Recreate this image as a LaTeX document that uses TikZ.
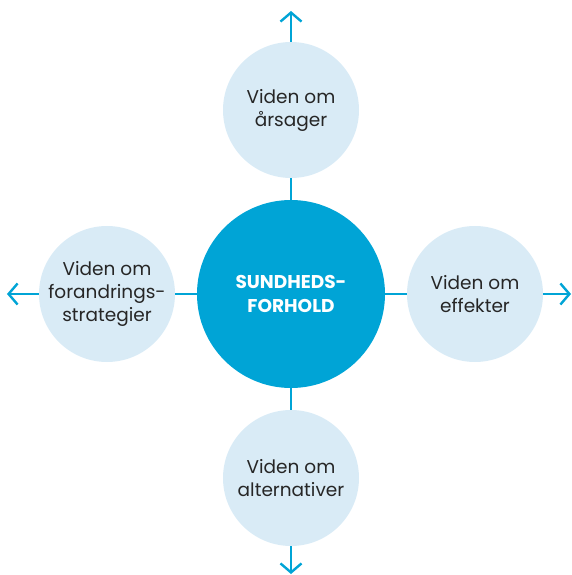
\documentclass[tikz,border=0pt]{standalone}
\usepackage{fontspec}
\setmainfont{Poppins}
\usetikzlibrary{positioning}
\usetikzlibrary{arrows.meta}
\definecolor{hubblue}{RGB}{0,164,214}
\definecolor{paleblue}{RGB}{217,235,246}
\tikzset{>={Straight Barb[length=9pt,width=21pt]}}
\tikzset{hub/.style={circle, fill=hubblue, minimum size=188pt, inner sep=0pt, text=white, align=center, font=\bfseries\fontsize{18.5}{24}\selectfont}}
\tikzset{vert/.style={circle, fill=paleblue, minimum size=136pt, inner sep=0pt, text=black!85, align=center, font=\fontsize{18.5}{23}\selectfont}}
\tikzset{link/.style={draw=hubblue, line width=2.4pt}}

\begin{document}
\begin{tikzpicture}[node distance=184pt, on grid]
\useasboundingbox (-291pt,-281pt) rectangle (280pt,294pt);

\node (sund) [hub] {SUNDHEDS-\\FORHOLD};
\node (aarsag) [vert, above=of sund] {Viden om\\årsager};
\node (effekt) [vert, right=of sund] {Viden om\\effekter};
\node (alternativ) [vert, below=of sund] {Viden om\\alternativer};
\node (strategi) [vert, left=of sund] {Viden om\\forandrings-\\strategier};

% loose ends of the arrows
\coordinate[above=99pt of aarsag] (aarsagend);
\coordinate[right=96pt of effekt] (effektend);
\coordinate[below=96pt of alternativ] (alternativend);
\coordinate[left=100pt of strategi] (strategiend);

\draw[link] (sund) -- (aarsag);
\draw[link] (sund) -- (effekt);
\draw[link] (sund) -- (alternativ);
\draw[link] (sund) -- (strategi);

\draw[link,->] (aarsag) -- (aarsagend);
\draw[link,->] (effekt) -- (effektend);
\draw[link,->] (alternativ) -- (alternativend);
\draw[link,->] (strategi) -- (strategiend);
\end{tikzpicture}
\end{document}
